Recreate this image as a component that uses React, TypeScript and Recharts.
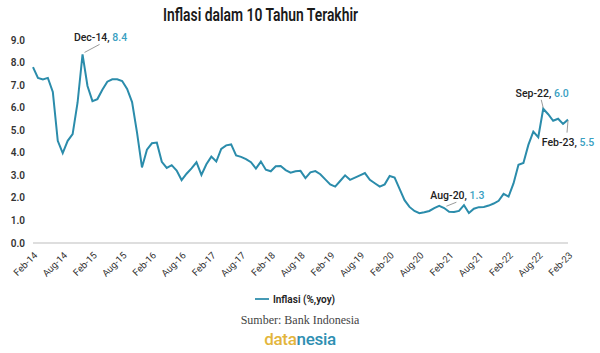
import React from "react";
import {
  LineChart,
  Line,
  XAxis,
  YAxis,
  Legend,
  LabelList,
} from "recharts";

const monthNames = ["Jan", "Feb", "Mar", "Apr", "May", "Jun", "Jul", "Aug", "Sep", "Oct", "Nov", "Dec"];

const inflasi2014 = [7.8, 7.32, 7.25, 7.32, 6.7, 4.53, 3.99, 4.53, 4.83, 6.23, 8.36]; // Feb-Dec
const inflasi2015 = [6.96, 6.29, 6.38, 6.79, 7.15, 7.26, 7.26, 7.18, 6.83, 6.25, 4.89, 3.35];
const inflasi2016 = [4.14, 4.42, 4.45, 3.6, 3.33, 3.45, 3.21, 2.79, 3.07, 3.31, 3.58, 3.02];
const inflasi2017 = [3.49, 3.83, 3.61, 4.17, 4.33, 4.37, 3.88, 3.82, 3.72, 3.58, 3.3, 3.61];
const inflasi2018 = [3.25, 3.18, 3.4, 3.41, 3.23, 3.12, 3.18, 3.2, 2.88, 3.13, 3.19, 3.05];
const inflasi2019 = [2.82, 2.6, 2.5, 2.75, 3.0, 2.8, 2.9, 3.0, 3.1, 2.8, 2.65, 2.5];
const inflasi2020 = [2.6, 2.97, 2.9, 2.4, 1.9, 1.6, 1.42, 1.32, 1.36, 1.42, 1.55, 1.65];
const inflasi2021 = [1.55, 1.38, 1.37, 1.42, 1.68, 1.33, 1.52, 1.59, 1.6, 1.66, 1.75, 1.87];
const inflasi2022 = [2.18, 2.06, 2.64, 3.47, 3.55, 4.35, 4.94, 4.69, 5.95, 5.71, 5.42, 5.51];
const inflasi2023 = [5.28, 5.47]; // Jan-Feb

const seriesByYear: [number, number[], number][] = [
  [2014, inflasi2014, 1],
  [2015, inflasi2015, 0],
  [2016, inflasi2016, 0],
  [2017, inflasi2017, 0],
  [2018, inflasi2018, 0],
  [2019, inflasi2019, 0],
  [2020, inflasi2020, 0],
  [2021, inflasi2021, 0],
  [2022, inflasi2022, 0],
  [2023, inflasi2023, 0],
];

const yTicks = [0, 1, 2, 3, 4, 5, 6, 7, 8, 9];

// annotated months and where their labels sit (offset from the point)
const annotations: Record<string, { dx: number; dy: number; lx1: number; ly1: number; lx2: number; ly2: number }> = {
  "Dec-14": { dx: 18, dy: -13, lx1: 2, ly1: -2, lx2: 17, ly2: -10 },
  "Aug-20": { dx: 38, dy: -14, lx1: 27, ly1: -7, lx2: 37, ly2: -11 },
  "Sep-22": { dx: -1, dy: -12, lx1: -2, ly1: -9, lx2: 0, ly2: -1 },
  "Feb-23": { dx: 0, dy: 26, lx1: 0, ly1: 1, lx2: -1, ly2: 13 },
};

const data = seriesByYear.flatMap(([year, values, startMonth]) =>
  values.map((v, i) => ({
    bulan: `${monthNames[startMonth + i]}-${String(year).slice(2)}`,
    inflasi: v,
  }))
);

const LINE = "#2b8cab";
const FONT = "Roboto, 'Noto Sans', sans-serif";

const XTick = (props: any) => {
  const { x, payload } = props;
  const ax = x + 5;
  const ay = 256;
  return (
    <text
      x={ax}
      y={ay}
      transform={`rotate(-45 ${ax} ${ay})`}
      textAnchor="end"
      fontSize={9.5}
      fontFamily={FONT}
      fill="#333"
    >
      {payload.value}
    </text>
  );
};

const AnnotationLabel = (props: any) => {
  const { x, y, index } = props;
  const row = data[index];
  const a = row && annotations[row.bulan];
  if (!a) return null;
  return (
    <g>
      <line
        x1={x + a.lx1}
        y1={y + a.ly1}
        x2={x + a.lx2}
        y2={y + a.ly2}
        stroke="#9a9a9a"
        strokeWidth={1}
      />
      <text
        x={x + a.dx}
        y={y + a.dy}
        textAnchor="middle"
        fontSize={10.5}
        fontWeight={500}
        fontFamily={FONT}
        fill="#222"
      >
        {row.bulan},{" "}
        <tspan fill="#3a9fc2">{row.inflasi.toFixed(1)}</tspan>
      </text>
    </g>
  );
};

export default function App() {
  return (
    <div
      style={{
        position: "absolute",
        left: 0,
        top: 0,
        width: 600,
        height: 353,
        background: "#fff",
      }}
    >
      <svg width={600} height={30} style={{ position: "absolute", left: 0, top: 0 }}>
        <text
          x={163}
          y={21}
          fontSize={18}
          fontWeight={600}
          fontFamily={FONT}
          fill="#1a1a1a"
          textLength={195}
          lengthAdjust="spacingAndGlyphs"
        >
          Inflasi dalam 10 Tahun Terakhir
        </text>
      </svg>
      <LineChart
        width={600}
        height={353}
        data={data}
        margin={{ top: 40, right: 32, bottom: 70, left: 8 }}
      >
        <XAxis
          dataKey="bulan"
          interval={5}
          height={40}
          tickLine={false}
          axisLine={{ stroke: "#dedede", strokeWidth: 2 }}
          tick={<XTick />}
        />
        <YAxis
          width={25}
          domain={[0, 9]}
          ticks={yTicks}
          tickLine={false}
          axisLine={false}
          tickFormatter={(v: number) => v.toFixed(1)}
          tick={{ fontSize: 10, fill: "#333", fontWeight: 600, fontFamily: FONT }}
        />
        <Legend
          verticalAlign="middle"
          align="center"
          wrapperStyle={{ top: 289, left: 0, width: 600 }}
          iconSize={14}
          formatter={(value: string) => (
            <span style={{ color: "#222", fontSize: 10, fontWeight: 600, fontFamily: FONT }}>{value}</span>
          )}
        />
        <Line
          type="linear"
          dataKey="inflasi"
          name="Inflasi (%,yoy)"
          stroke={LINE}
          strokeWidth={2}
          dot={false}
          legendType="plainline"
          isAnimationActive={false}
        >
          <LabelList dataKey="inflasi" content={<AnnotationLabel />} />
        </Line>
      </LineChart>
      <div
        style={{
          position: "absolute",
          top: 313,
          left: 0,
          width: 600,
          textAlign: "center",
          fontFamily: "'Liberation Serif', 'DejaVu Serif', serif",
          fontSize: 12,
          color: "#444",
        }}
      >
        Sumber: Bank Indonesia
      </div>
      <div
        style={{
          position: "absolute",
          top: 329,
          left: 0,
          width: 600,
          textAlign: "center",
          fontFamily: FONT,
          fontSize: 17,
          fontWeight: 500,
          letterSpacing: -0.3,
        }}
      >
        <span style={{ color: "#e3b53c" }}>data</span>
        <span style={{ color: "#2f8fb2" }}>nesia</span>
      </div>
    </div>
  );
}
